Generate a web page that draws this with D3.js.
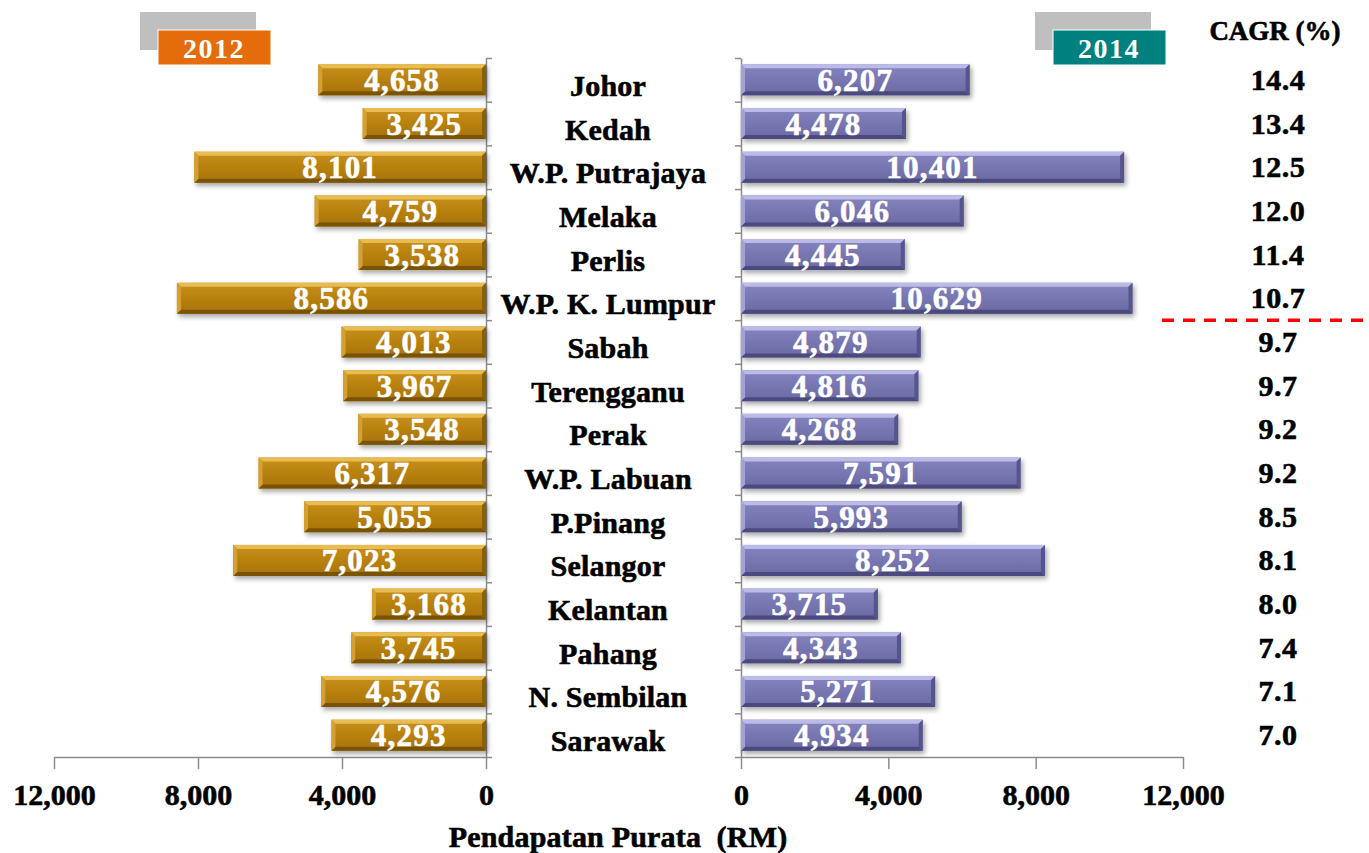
<!DOCTYPE html>
<head>
  <meta charset="utf-8" />
  <script src="https://cdn.jsdelivr.net/npm/d3@7/dist/d3.min.js"></script>
  <style>
    body {
      background-color: #ffffff;
      margin: 0;
    }
    text {
      font-family: "Liberation Serif", "DejaVu Serif", serif;
      font-weight: bold;
      stroke-width: 0.6px;
    }
    .axis path,
    .axis line {
      stroke: #8c8c8c;
      stroke-width: 1.5px;
    }
    .axis text {
      font-family: "Liberation Serif", serif;
      font-size: 30px;
      font-weight: bold;
      fill: #000;
      stroke: #000;
    }
  </style>
</head>

<body>
  <script>
    // states sorted by CAGR
    var states = ["Johor", "Kedah", "W.P. Putrajaya", "Melaka", "Perlis",
      "W.P. K. Lumpur", "Sabah", "Terengganu", "Perak", "W.P. Labuan",
      "P.Pinang", "Selangor", "Kelantan", "Pahang", "N. Sembilan", "Sarawak"];
    var val2012 = [4658, 3425, 8101, 4759, 3538, 8586, 4013, 3967, 3548,
      6317, 5055, 7023, 3168, 3745, 4576, 4293];
    var val2014 = [6207, 4478, 10401, 6046, 4445, 10629, 4879, 4816, 4268,
      7591, 5993, 8252, 3715, 4343, 5271, 4934];
    var cagr = ["14.4", "13.4", "12.5", "12.0", "11.4", "10.7", "9.7", "9.7",
      "9.2", "9.2", "8.5", "8.1", "8.0", "7.4", "7.1", "7.0"];
    var ticks = [0, 4000, 8000, 12000];
    var years = ["2012", "2014"];
    var cutAfter = 6; // red line after the 6th state

    var width = 1369, height = 853;

    var svg = d3.select("body").append("svg")
      .attr("width", width)
      .attr("height", height);

    var defs = svg.append("defs");

    var f = defs.append("filter").attr("id", "shadow")
      .attr("x", "-10%").attr("y", "-30%").attr("width", "130%").attr("height", "190%");
    f.append("feGaussianBlur").attr("in", "SourceAlpha").attr("stdDeviation", 2.5);
    f.append("feOffset").attr("dx", 2).attr("dy", 3).attr("result", "ob");
    f.append("feComponentTransfer").append("feFuncA").attr("type", "linear").attr("slope", 0.35);
    var fm = f.append("feMerge");
    fm.append("feMergeNode");
    fm.append("feMergeNode").attr("in", "SourceGraphic");

    function grad(id, c1, c2) {
      var g = defs.append("linearGradient").attr("id", id)
        .attr("x1", 0).attr("y1", 0).attr("x2", 0).attr("y2", 1);
      g.append("stop").attr("offset", "0%").attr("stop-color", c1);
      g.append("stop").attr("offset", "100%").attr("stop-color", c2);
    }
    grad("gold", "#c89016", "#a7720a");
    grad("purple", "#8584c0", "#6a69a3");

    var palettes = {
      gold: { fill: "url(#gold)", top: "#e9bc52", bottom: "#7a5304", left: "#d4a030", right: "#8c6006" },
      purple: { fill: "url(#purple)", top: "#bcbbe8", bottom: "#4b4a7e", left: "#a3a2d6", right: "#55548c" }
    };

    var y = d3.scaleBand().domain(states).range([58, 757])
      .paddingInner(0.29).paddingOuter(0.145);
    var yIdx = d3.scaleLinear().domain([0, states.length]).range([58, 757]);

    var xL = d3.scaleLinear().domain([0, 12000]).range([486, 54]);
    var xR = d3.scaleLinear().domain([0, 12000]).range([741, 1183]);

    var fmt = d3.format(",");

    // axes
    svg.append("g").attr("class", "axis")
      .attr("transform", "translate(0,757)")
      .call(d3.axisBottom(xL).tickValues(ticks).tickSize(12).tickSizeOuter(0)
        .tickPadding(15).tickFormat(fmt));
    svg.append("g").attr("class", "axis")
      .attr("transform", "translate(0,757)")
      .call(d3.axisBottom(xR).tickValues(ticks).tickSize(12).tickSizeOuter(0)
        .tickPadding(15).tickFormat(fmt));
    svg.append("g").attr("class", "axis")
      .attr("transform", "translate(486,0)")
      .call(d3.axisRight(yIdx).ticks(16).tickSize(6).tickSizeOuter(0).tickFormat(""));
    svg.append("g").attr("class", "axis")
      .attr("transform", "translate(741,0)")
      .call(d3.axisLeft(yIdx).ticks(16).tickSize(6).tickSizeOuter(0).tickFormat(""));

    function drawBars(values, x, pal) {
      var b = 4;
      var g = svg.append("g");
      values.forEach(function(v, i) {
        var xa = Math.min(x(0), x(v)), xb = Math.max(x(0), x(v));
        var y0 = y(states[i]), y1 = y0 + y.bandwidth();
        var bar = g.append("g").attr("filter", "url(#shadow)");
        bar.append("rect")
          .attr("x", xa).attr("y", y0)
          .attr("width", xb - xa).attr("height", y1 - y0)
          .attr("fill", pal.fill);
        var polys = [
          [[xa, y0], [xb, y0], [xb - b, y0 + b], [xa + b, y0 + b], pal.top],
          [[xa, y1], [xb, y1], [xb - b, y1 - b], [xa + b, y1 - b], pal.bottom],
          [[xa, y0], [xa + b, y0 + b], [xa + b, y1 - b], [xa, y1], pal.left],
          [[xb, y0], [xb - b, y0 + b], [xb - b, y1 - b], [xb, y1], pal.right]
        ];
        polys.forEach(function(p) {
          bar.append("polygon")
            .attr("points", p.slice(0, 4).map(function(d) { return d.join(","); }).join(" "))
            .attr("fill", p[4]);
        });
        g.append("text")
          .attr("x", (xa + xb) / 2)
          .attr("y", y0 + y.bandwidth() / 2 + 11)
          .attr("text-anchor", "middle")
          .attr("fill", "#fff")
          .attr("stroke", "#fff")
          .style("font-size", "31px")
          .style("letter-spacing", "1.2px")
          .text(fmt(v));
      });
    }

    drawBars(val2012, xL, palettes.gold);
    drawBars(val2014, xR, palettes.purple);

    // state names
    svg.append("g").selectAll("text")
      .data(states).enter().append("text")
      .attr("x", 608)
      .attr("y", function(d) { return y(d) + y.bandwidth() / 2 + 16; })
      .attr("text-anchor", "middle")
      .attr("stroke", "#000")
      .style("font-size", "30px")
      .style("letter-spacing", "0.2px")
      .text(function(d) { return d; });

    // CAGR column
    svg.append("text")
      .attr("x", 1275).attr("y", 40)
      .attr("text-anchor", "middle")
      .attr("stroke", "#000")
      .style("font-size", "27px")
      .text("CAGR (%)");
    svg.append("g").selectAll("text")
      .data(cagr).enter().append("text")
      .attr("x", 1278)
      .attr("y", function(d, i) { return y(states[i]) + y.bandwidth() / 2 + 10; })
      .attr("text-anchor", "middle")
      .attr("stroke", "#000")
      .style("font-size", "30px")
      .style("letter-spacing", "0.5px")
      .text(function(d) { return d; });

    svg.append("line")
      .attr("x1", 1162).attr("x2", width)
      .attr("y1", yIdx(cutAfter)).attr("y2", yIdx(cutAfter))
      .attr("stroke", "#ff0000")
      .attr("stroke-width", 3.5)
      .attr("stroke-dasharray", "12,9");

    // year tags
    var tags = [
      { x: 140, label: years[0], color: "#e46c0a" },
      { x: 1035, label: years[1], color: "#00807f" }
    ];
    tags.forEach(function(t) {
      svg.append("rect").attr("x", t.x).attr("y", 12)
        .attr("width", 116).attr("height", 38).attr("fill", "#bfbfbf");
      svg.append("rect").attr("x", t.x + 18).attr("y", 30)
        .attr("width", 113).attr("height", 35).attr("fill", t.color)
        .attr("stroke", "#fff").attr("stroke-width", 1);
      svg.append("text").attr("x", t.x + 74).attr("y", 58)
        .attr("text-anchor", "middle").attr("fill", "#fff")
        .style("font-size", "28px").style("letter-spacing", "1.5px")
        .text(t.label);
    });

    svg.append("text")
      .attr("x", 618).attr("y", 847)
      .attr("text-anchor", "middle")
      .attr("xml:space", "preserve")
      .attr("stroke", "#000")
      .style("white-space", "pre")
      .style("font-size", "30px")
      .style("letter-spacing", "0.2px")
      .text("Pendapatan Purata  (RM)");
  </script>
</body>
